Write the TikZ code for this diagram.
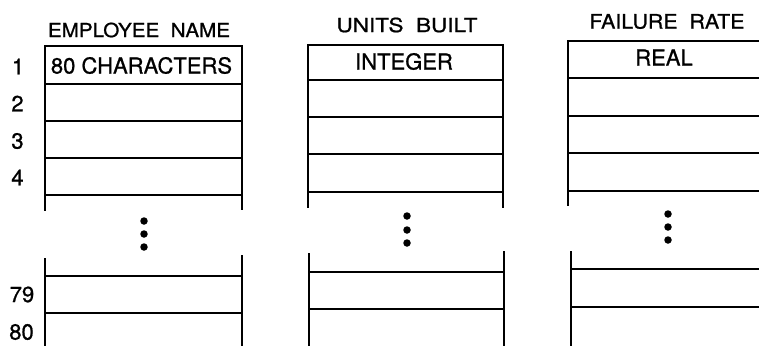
\documentclass[tikz,border=0pt]{standalone}
\usepackage{fontspec}
\setmainfont{TeX Gyre Heros}[FakeBold=0.9]
\begin{document}
\begin{tikzpicture}[x=1pt,y=-1pt,
  rule/.style={line width=2pt},
  vert/.style={line width=2.4pt},
  hdr/.style={inner sep=0pt, anchor=center},
  txt/.style={inner sep=0pt, anchor=center, font=\fontsize{22}{23}\selectfont},
  dotmark/.style={circle, fill=black, inner sep=0pt, minimum size=7.5pt}]
\useasboundingbox (0,0) rectangle (759,346);
% ---------- column 1 ----------
\draw[rule] (44,46) -- (243,46);
\foreach \y in {84,121,158,195} \draw[rule] (45,\y) -- (242,\y);
\draw[vert] (45,45) -- (45,211);
\draw[vert] (242,45) -- (242,210);
\draw[vert] (45,258) -- (45,346);
\draw[vert] (242,255) -- (242,346);
\foreach \y in {276,313} \draw[rule] (45,\y) -- (242,\y);
\node[dotmark] (d1a) at (144,221) {};
\node[dotmark] (d1b) at (144,234) {};
\node[dotmark] (d1c) at (144,247) {};
% ---------- column 2 ----------
\draw[rule] (307,45) -- (504,45);
\foreach \y in {80,117,154,192} \draw[rule] (308,\y) -- (503,\y);
\draw[vert] (308,44) -- (308,208);
\draw[vert] (503,44) -- (503,208);
\draw[vert] (309,253) -- (309,346);
\draw[vert] (504,251) -- (504,346);
\foreach \y in {272,309} \draw[rule] (309,\y) -- (504,\y);
\node[dotmark] (d2a) at (407,216) {};
\node[dotmark] (d2b) at (407,230) {};
\node[dotmark] (d2c) at (407,243) {};
% ---------- column 3 ----------
\draw[rule] (567,41) -- (759,41);
\foreach \y in {78,116,153,191} \draw[rule] (568,\y) -- (759,\y);
\draw[vert] (568,40) -- (568,206);
\draw[vert] (571,251) -- (571,346);
\foreach \y in {269,307} \draw[rule] (571,\y) -- (759,\y);
\node[dotmark] (d3a) at (668,214) {};
\node[dotmark] (d3b) at (668,227) {};
\node[dotmark] (d3c) at (668,240) {};
% ---------- headers ----------
\node[hdr] (h1) at (139,30) {\resizebox{182pt}{14.5pt}{EMPLOYEE\ \ NAME}};
\node[hdr] (h2) at (407,25) {\resizebox{141pt}{14.5pt}{UNITS\ \ BUILT}};
\node[hdr] (h3) at (667,21.5) {\resizebox{155pt}{14.5pt}{FAILURE\ \ RATE}};
% ---------- cell texts ----------
\node[txt] (t1) at (141.5,65.5) {80 CHARACTERS};
\node[txt] (t2) at (404,61.5) {INTEGER};
\node[txt] (t3) at (664,57.5) {REAL};
% ---------- row numbers ----------
\node[txt] (n1) at (18,66.5) {1};
\node[txt] (n2) at (17.5,103.5) {2};
\node[txt] (n3) at (17.5,141) {3};
\node[txt] (n4) at (17.5,177.5) {4};
\node[txt] (n79) at (22,294.5) {79};
\node[txt] (n80) at (21.5,332) {80};
\end{tikzpicture}
\end{document}
